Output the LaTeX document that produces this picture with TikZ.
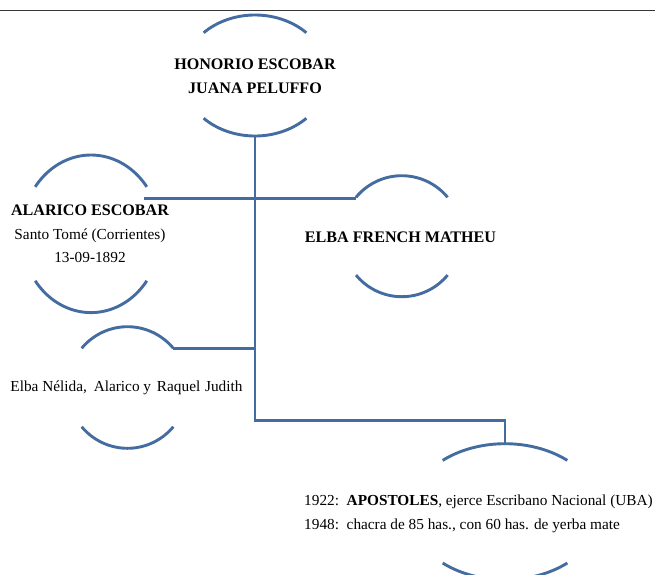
\documentclass[tikz,border=0pt]{standalone}
\usepackage{fontspec}
\setmainfont{Liberation Serif}
\definecolor{arcblue}{RGB}{68,108,160}
\definecolor{rulegray}{RGB}{55,55,55}
\newcommand\ringarcs[5]{% cx, cy, rx, ry, start angle
  \draw[arcline] plot[domain={#5}:{180-#5}, samples=41] ({#1+#3*cos(\x)},{#2-#4*sin(\x)});
  \draw[arcline] plot[domain={#5}:{180-#5}, samples=41] ({#1+#3*cos(\x)},{#2+#4*sin(\x)});
}
\begin{document}
\begin{tikzpicture}[x=1pt,y=-1pt,
  arcline/.style={draw=arcblue, line width=2.9pt},
  link/.style={draw=arcblue, line width=2.9pt},
  boldname/.style={font=\fontsize{16.1}{24}\selectfont\bfseries, inner sep=0pt, anchor=base, align=center},
  plaintext/.style={font=\fontsize{15.3}{23.5}\selectfont, inner sep=0pt, anchor=base, align=center}]
\useasboundingbox (0,0) rectangle (655,574);
\clip (0,0) rectangle (655,574);

% top rule
\draw[rulegray, line width=1.1pt] (0,10.7) -- (655,10.7);

% ring arcs
\ringarcs{255}{75.5}{72.6}{60.5}{45}
\ringarcs{91}{233.8}{69.5}{78.8}{36.6}
\ringarcs{401.8}{236.2}{59.8}{60.5}{40}
\ringarcs{127.5}{387.5}{60}{60.8}{40.2}
\ringarcs{505}{511.7}{95}{68}{49}

% texts (anchor = baseline of the last line)
\node[boldname] (h) at (255,93.3) {HONORIO ESCOBAR\\JUANA PELUFFO};
\node[plaintext] (a) at (90,262.7) {{\bfseries\fontsize{16.1}{23.5}\selectfont ALARICO ESCOBAR}\\Santo Tomé (Corrientes)\\13-09-1892};
\node[boldname] (e) at (400.5,242) {ELBA FRENCH MATHEU};
\node[plaintext] (c) at (126.5,391.7) {Elba Nélida,\hspace{3pt} Alarico y\hspace{2pt} Raquel\hspace{1pt} Judith};
\node[plaintext, align=left, anchor=base west] (p) at (304,529.3) {1922:\ \ \textbf{APOSTOLES}, ejerce Escribano Nacional (UBA)\\1948:\ \ chacra de 85 has., con 60 has. de yerba mate};

% connector points
\coordinate (hbot) at (255,136);
\coordinate (atr) at (144,198.3);
\coordinate (etl) at (356,198.3);
\coordinate (ctr) at (173.3,348.3);
\coordinate (trunk) at (255,348.3);
\coordinate (low) at (255,420.7);
\coordinate (ptop) at (505,444.3);

% connectors
\draw[link] (hbot) -- (low) -| (ptop);
\draw[link] (atr) -- (etl);
\draw[link] (ctr) -- (trunk);
\end{tikzpicture}
\end{document}
